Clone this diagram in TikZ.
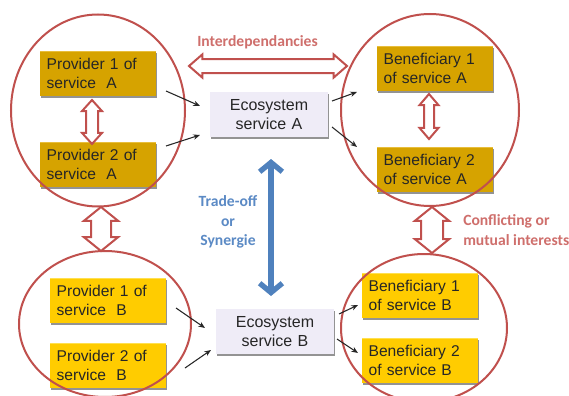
\documentclass[tikz,border=0pt]{standalone}
\usepackage{fontspec}
\setmainfont{Liberation Sans}
\newfontfamily\labelfont{Carlito}
\usetikzlibrary{shapes.geometric,shapes.arrows,shadows,arrows.meta}
\definecolor{ringred}{HTML}{C0504D}
\definecolor{labred}{HTML}{CF6F6C}
\definecolor{labblue}{HTML}{5B8AC5}
\definecolor{arrowblue}{HTML}{4F81BD}
\definecolor{darkgold}{HTML}{D6A300}
\definecolor{darkgoldtop}{HTML}{E8BE3C}
\definecolor{gold}{HTML}{FFCC00}
\definecolor{goldtop}{HTML}{FFE050}
\definecolor{ecofill}{HTML}{EFECF7}
\tikzset{
  x=0.75pt,y=-0.75pt,
  softshadow/.style={drop shadow={shadow xshift=0.6pt,shadow yshift=-1.2pt,opacity=.6,fill=black!70}},
  goldbox/.style={anchor=north west,minimum width=87pt,minimum height=33.75pt,text width=77pt,
    inner xsep=5pt,inner ysep=0pt,outer sep=0pt,align=left,font=\fontsize{11.7}{13.75}\selectfont,
    text=black!85,softshadow},
  boxA/.style={goldbox,fill=darkgold,path picture={\fill[darkgoldtop] (path picture bounding box.north west) rectangle ([yshift=-1.1pt]path picture bounding box.north east);}},
  boxB/.style={goldbox,fill=gold,path picture={\fill[goldtop] (path picture bounding box.north west) rectangle ([yshift=-1.1pt]path picture bounding box.north east);}},
  ecobox/.style={anchor=north west,minimum width=88.5pt,minimum height=33.75pt,text width=85pt,
    inner sep=0pt,outer sep=0pt,align=center,font=\fontsize{12}{13.75}\selectfont,text=black!85,fill=ecofill,softshadow},
  ring/.style={ellipse,draw=ringred,line width=1.5pt,inner sep=0pt,outer sep=0pt},
  twinarrow/.style={double arrow,draw=ringred,fill=white,line width=1.5pt,inner xsep=0pt,outer sep=0pt,
    double arrow head indent=0pt},
  thinarrow/.style={draw=black!85,line width=0.8pt,-{Stealth[length=5pt,width=4pt]}},
  tradearrow/.style={draw=arrowblue,line width=4pt,{Straight Barb[length=7pt,width=17pt]}-{Straight Barb[length=7pt,width=17pt]}},
  redlabel/.style={font=\labelfont\bfseries\fontsize{11.7}{15}\selectfont,text=labred,align=left,inner sep=0pt},
  bluelabel/.style={font=\labelfont\bfseries\fontsize{11.7}{14.6}\selectfont,text=labblue,align=center,inner sep=0pt},
}
\begin{document}
\begin{tikzpicture}
\useasboundingbox (0,0) rectangle (569,396);
\clip (0,0) rectangle (569,396);
\fill[white] (0,0) rectangle (569,396);
% boxes
\node[boxA] (p1a) at (40,51) {Provider 1 of\\service~ A};
\node[boxA] (p2a) at (40,142) {Provider 2 of\\service~ A};
\node[boxA] (b1a) at (377,46) {Beneficiary 1\\of service A};
\node[boxA] (b2a) at (377,147) {Beneficiary 2\\of service A};
\node[boxB] (p1b) at (50,278) {Provider 1 of\\service~ B};
\node[boxB] (p2b) at (50,343) {Provider 2 of\\service~ B};
\node[boxB] (b1b) at (362,273) {Beneficiary 1\\of service B};
\node[boxB] (b2b) at (362,338) {Beneficiary 2\\of service B};
\node[ecobox] (ecoa) at (210,92) {Ecosystem\\service A};
\node[ecobox] (ecob) at (216,309) {Ecosystem\\service B};
% rings
\node[ring,minimum width=130.5pt,minimum height=144pt] (ringpa) at (98,110.5) {};
\node[ring,minimum width=133.5pt,minimum height=144pt] (ringba) at (430,110) {};
\node[ring,minimum width=129pt,minimum height=109.5pt] (ringpb) at (105,324) {};
\node[ring,minimum width=124.5pt,minimum height=111pt] (ringbb) at (424,328) {};
% twin arrows
\node[twinarrow,minimum height=118.5pt,inner ysep=4.5pt,double arrow head extend=3.4pt,double arrow tip angle=82] (interdep) at (268,66) {};
\node[twinarrow,rotate=90,minimum height=33pt,inner ysep=3.75pt,double arrow head extend=3pt,double arrow tip angle=84] (twinpa) at (92,122) {};
\node[twinarrow,rotate=90,minimum height=33.75pt,inner ysep=3pt,double arrow head extend=3.4pt,double arrow tip angle=81] (twinba) at (429,116.5) {};
\node[twinarrow,rotate=90,minimum height=33pt,inner ysep=6.75pt,double arrow head extend=5.25pt,double arrow tip angle=102] (twinp) at (101,229) {};
\node[twinarrow,rotate=90,minimum height=34.5pt,inner ysep=7.5pt,double arrow head extend=4.5pt,double arrow tip angle=102] (twinb) at (432,230) {};
% thin connectors
\draw[thinarrow] ([shift={(10,-5)}]p1a.south east) -- ([shift={(-10,14)}]ecoa.north west);
\draw[thinarrow] ([shift={(10,4)}]p2a.north east) -- ([shift={(-10,-2)}]ecoa.south west);
\draw[thinarrow] ([shift={(4,9)}]ecoa.north east) -- ([shift={(-20,1)}]b1a.south west);
\draw[thinarrow] ([shift={(4,-10)}]ecoa.south east) -- ([shift={(-20,0)}]b2a.north west);
\draw[thinarrow] ([shift={(10,-15)}]p1b.south east) -- ([shift={(-11,19)}]ecob.north west);
\draw[thinarrow] ([shift={(19,25)}]p2b.north east) -- ([shift={(-5,-4)}]ecob.south west);
\draw[thinarrow] ([shift={(5,5)}]ecob.north east) -- ([shift={(-4,-13)}]b1b.south west);
\draw[thinarrow] ([shift={(3,-15)}]ecob.south east) -- ([shift={(-4,15)}]b2b.north west);
% trade-off arrow
\draw[tradearrow] ([shift={(2,22)}]ecoa.south) -- ([shift={(-4,-13)}]ecob.north);
% labels
\node[redlabel,anchor=west] (interlabel) at (197,42) {Interdependancies};
\node[redlabel,anchor=west] (conflabel) at (463,230) {Conflicting or\\mutual interests};
\node[bluelabel] (tradelabel) at (228,222) {Trade-off\\or\\Synergie};
\end{tikzpicture}
\end{document}
